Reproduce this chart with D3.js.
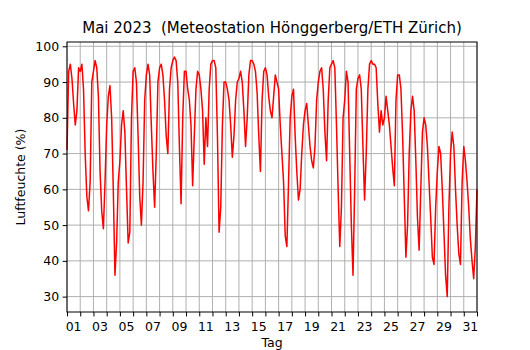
<!DOCTYPE html>
<html>
<head>
<meta charset="utf-8">
<script src="https://d3js.org/d3.v7.min.js"></script>
<style>
  body { margin: 0; background: #fff; }
  text { font-family: "DejaVu Sans", sans-serif; fill: #000; }
</style>
</head>
<body>
<div id="chart"></div>
<script>
// relative humidity (%), one value every 3 hours
var hours = [0, 3, 6, 9, 12, 15, 18, 21];
var may01to07 = [
  71, 93, 95, 91, 84, 78, 82, 94,
  93, 95, 88, 70, 58, 54, 62, 90,
  93, 96, 94, 86, 65, 54, 49, 62,
  78, 86, 89, 80, 60, 36, 45, 62,
  68, 78, 82, 76, 60, 45, 48, 80,
  93, 94, 90, 75, 58, 50, 62, 85,
  92, 95, 92, 78, 65, 55, 70, 90
];
var may08to14 = [
  94, 95, 92, 85, 75, 70, 88, 94,
  96, 97, 96, 90, 72, 56, 80, 93,
  93, 88, 85, 78, 61, 75, 88, 93,
  92, 88, 82, 67, 80, 72, 88, 95,
  96, 96, 94, 75, 48, 55, 78, 90,
  90, 88, 85, 78, 69, 75, 85, 90,
  91, 93, 90, 82, 72, 80, 92, 96
];
var may15to21 = [
  96, 95, 93, 87, 75, 65, 85, 93,
  94, 92, 86, 82, 80, 86, 92, 90,
  88, 78, 70, 62, 47, 44, 62, 80,
  86, 88, 75, 65, 57, 60, 70, 78,
  82, 84, 78, 72, 68, 66, 72, 85,
  90, 93, 94, 88, 76, 68, 85, 94,
  95, 96, 94, 78, 60, 44, 55, 80
];
var may22to28 = [
  85, 93, 90, 70, 50, 36, 60, 88,
  91, 92, 88, 72, 57, 70, 88, 95,
  96, 95, 95, 94, 84, 76, 82, 78,
  80, 86, 82, 78, 72, 66, 61, 85,
  92, 92, 88, 75, 58, 41, 50, 70,
  82, 86, 82, 68, 52, 43, 60, 76,
  80, 78, 72, 62, 52, 41, 39, 55
];
var may29to31 = [
  65, 72, 70, 60, 48, 36, 30, 55,
  70, 76, 72, 60, 50, 42, 39, 62,
  72, 68, 62, 55, 46, 40, 35, 44
];
var lastValue = 60; // 1 June 00:00

var margin = {top: 42, right: 53, bottom: 38, left: 67},
    width = 530 - margin.left - margin.right,
    height = 350 - margin.top - margin.bottom;

var data = [];
[may01to07, may08to14, may15to21, may22to28, may29to31]
  .reduce(function(a, b) { return a.concat(b); }, [])
  .forEach(function(v, i) {
    var day = Math.floor(i / hours.length), h = hours[i % hours.length];
    data.push({date: new Date(2023, 4, 1 + day, h), value: v});
  });
data.push({date: new Date(2023, 5, 1, 0), value: lastValue});

var svg = d3.select("#chart")
  .append("svg")
    .attr("width", width + margin.left + margin.right)
    .attr("height", height + margin.top + margin.bottom)
  .append("g")
    .attr("transform", "translate(" + margin.left + "," + margin.top + ")");

var x = d3.scaleTime()
  .domain([new Date(2023, 4, 1), new Date(2023, 5, 1)])
  .range([0, width]);

var y = d3.scaleLinear()
  .domain([25.7, 101.2])
  .range([height, 0]);

var yTicks = [30, 40, 50, 60, 70, 80, 90, 100];
var midnights = d3.timeDay.range(new Date(2023, 4, 1), new Date(2023, 5, 1, 1));
var labelDays = midnights.filter(function(d) { return d.getDate() % 2 == 1 && d.getMonth() == 4; });

// grid
svg.append("g").selectAll("line").data(midnights).enter().append("line")
  .attr("x1", function(d) { return x(d); }).attr("x2", function(d) { return x(d); })
  .attr("y1", 0).attr("y2", height)
  .attr("stroke", "#b0b0b0").attr("stroke-width", 1);
svg.append("g").selectAll("line").data(yTicks).enter().append("line")
  .attr("x1", 0).attr("x2", width)
  .attr("y1", function(d) { return y(d); }).attr("y2", function(d) { return y(d); })
  .attr("stroke", "#b0b0b0").attr("stroke-width", 1);

// line
svg.append("path")
  .datum(data)
  .attr("fill", "none")
  .attr("stroke", "#ff0000")
  .attr("stroke-width", 1.5)
  .attr("stroke-linejoin", "round")
  .attr("d", d3.line()
    .x(function(d) { return x(d.date); })
    .y(function(d) { return y(d.value); }));

// axes
var yAxis = svg.append("g")
  .call(d3.axisLeft(y).tickValues(yTicks).tickSize(4.4).tickPadding(3.5));
var xAxis = svg.append("g")
  .attr("transform", "translate(0," + height + ")")
  .call(d3.axisBottom(x).tickValues(midnights).tickSize(4.4).tickFormat(""));
[xAxis, yAxis].forEach(function(a) {
  a.select(".domain").remove();
  a.selectAll("line").attr("stroke", "#000").attr("stroke-width", 1);
  a.selectAll("text").style("font-size", "12.5px").attr("font-family", "DejaVu Sans");
});

svg.append("g").selectAll("text").data(labelDays).enter().append("text")
  .attr("x", function(d) { return x(d3.timeHour.offset(d, 12)); })
  .attr("y", height + 19.2)
  .attr("text-anchor", "middle")
  .style("font-size", "12.5px")
  .text(d3.timeFormat("%d"));

// frame
svg.append("rect")
  .attr("width", width).attr("height", height)
  .attr("fill", "none").attr("stroke", "#000").attr("stroke-width", 1);

svg.append("text")
  .attr("x", width / 2).attr("y", -8.6)
  .attr("text-anchor", "middle")
  .attr("xml:space", "preserve")
  .style("font-size", "15px")
  .text("Mai 2023  (Meteostation Hönggerberg/ETH Zürich)");

svg.append("text")
  .attr("x", width / 2).attr("y", height + 35)
  .attr("text-anchor", "middle")
  .style("font-size", "12.5px")
  .text("Tag");

svg.append("text")
  .attr("transform", "translate(-42.5," + height / 2 + ") rotate(-90)")
  .attr("text-anchor", "middle")
  .style("font-size", "12.5px")
  .text("Luftfeuchte (%)");
</script>
</body>
</html>
